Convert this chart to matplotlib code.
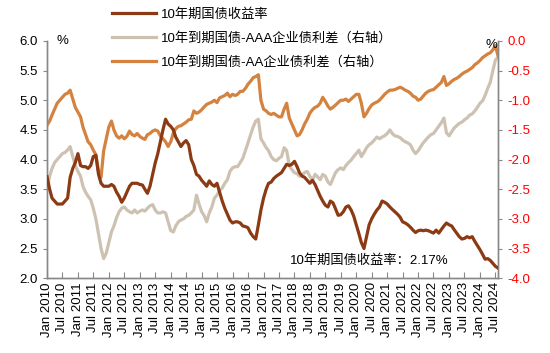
import matplotlib
matplotlib.use("Agg")
import matplotlib.pyplot as plt
import pandas as pd
import numpy as np

plt.rcParams['font.family'] = ['Liberation Sans', 'Noto Sans CJK SC', 'DejaVu Sans']

# Monthly observations, Jan 2010 - Aug 2024
start_month = '2010-01-01'

# 10年期国债收益率 (%), left axis
yield_10y = [
    3.71, 3.50, 3.35, 3.30, 3.25, 3.25, 3.25, 3.30, 3.35, 3.70, 3.85, 3.95,
    4.10, 3.90, 3.88, 3.88, 3.85, 3.90, 4.05, 4.07, 3.75, 3.60, 3.55, 3.55,
    3.55, 3.58, 3.55, 3.45, 3.38, 3.28, 3.35, 3.45, 3.55, 3.60, 3.60, 3.60,
    3.58, 3.57, 3.50, 3.43, 3.55, 3.75, 3.94, 4.10, 4.30, 4.50, 4.68, 4.60,
    4.56, 4.50, 4.38, 4.30, 4.22, 4.28, 4.32, 4.25, 4.00, 3.90, 3.75, 3.72,
    3.65, 3.60, 3.55, 3.64, 3.58, 3.55, 3.60, 3.45, 3.30, 3.18, 3.08, 2.98,
    2.93, 2.95, 2.95, 2.93, 2.88, 2.87, 2.85, 2.76, 2.70, 2.66, 2.90, 3.15,
    3.35, 3.50, 3.60, 3.62, 3.68, 3.72, 3.75, 3.78, 3.85, 3.92, 3.90, 3.92,
    3.97, 3.88, 3.78, 3.72, 3.70, 3.65, 3.60, 3.65, 3.58, 3.48, 3.38, 3.30,
    3.23, 3.20, 3.30, 3.27, 3.17, 3.06, 3.07, 3.12, 3.20, 3.22, 3.15, 3.05,
    2.90, 2.75, 2.60, 2.50, 2.70, 2.90, 3.00, 3.08, 3.15, 3.20, 3.30, 3.28,
    3.25, 3.20, 3.16, 3.12, 3.08, 3.03, 2.95, 2.93, 2.90, 2.86, 2.81, 2.77,
    2.80, 2.81, 2.80, 2.81, 2.80, 2.78, 2.76, 2.81, 2.76, 2.82, 2.88, 2.93,
    2.90, 2.88, 2.82, 2.76, 2.70, 2.66, 2.67, 2.70, 2.68, 2.70, 2.62, 2.55,
    2.48, 2.40, 2.32, 2.33, 2.30, 2.25, 2.20, 2.17,
]

# 10年到期国债-AAA企业债利差 (%), right axis
spread_aaa = [
    -2.50, -2.28, -2.15, -2.05, -2.00, -1.95, -1.90, -1.88, -1.84, -1.78, -1.95, -2.10,
    -2.20, -2.28, -2.45, -2.55, -2.62, -2.68, -2.82, -3.00, -3.25, -3.50, -3.67, -3.58,
    -3.40, -3.22, -3.12, -2.98, -2.88, -2.82, -2.80, -2.85, -2.88, -2.90, -2.85, -2.90,
    -2.87, -2.85, -2.87, -2.82, -2.78, -2.76, -2.85, -2.90, -2.90, -2.88, -2.90, -3.05,
    -3.20, -3.22, -3.12, -3.05, -3.02, -3.00, -2.96, -2.94, -2.90, -2.85, -2.60, -2.75,
    -2.88, -2.95, -3.05, -2.90, -2.80, -2.65, -2.60, -2.52, -2.48, -2.40, -2.34, -2.20,
    -2.14, -2.12, -2.12, -2.05, -1.98, -1.85, -1.72, -1.58, -1.45, -1.35, -1.32, -1.65,
    -1.72, -1.80, -1.85, -1.95, -2.00, -2.02, -1.98, -1.95, -1.80, -1.85, -2.10, -2.17,
    -2.22, -2.24, -2.28, -2.26, -2.22, -2.20, -2.28, -2.35, -2.25, -2.29, -2.34, -2.25,
    -2.28, -2.38, -2.42, -2.32, -2.22, -2.17, -2.14, -2.17, -2.10, -2.05, -2.01, -1.95,
    -1.90, -1.84, -1.95, -1.88, -1.80, -1.75, -1.72, -1.67, -1.62, -1.65, -1.62, -1.60,
    -1.56, -1.50, -1.56, -1.60, -1.61, -1.63, -1.67, -1.70, -1.72, -1.75, -1.84, -1.90,
    -1.85, -1.78, -1.72, -1.67, -1.62, -1.58, -1.56, -1.50, -1.44, -1.38, -1.30, -1.55,
    -1.60, -1.53, -1.47, -1.43, -1.39, -1.37, -1.33, -1.30, -1.25, -1.23, -1.18, -1.12,
    -1.05, -1.01, -0.92, -0.80, -0.70, -0.50, -0.32, -0.28,
]

# 10年到期国债-AA企业债利差 (%), right axis
spread_aa = [
    -1.42, -1.35, -1.25, -1.15, -1.05, -1.00, -0.95, -0.90, -0.88, -0.83, -0.98, -1.12,
    -1.20, -1.28, -1.45, -1.58, -1.70, -1.75, -1.84, -1.92, -2.20, -2.30, -1.85, -1.65,
    -1.45, -1.35, -1.50, -1.60, -1.64, -1.60, -1.65, -1.61, -1.52, -1.58, -1.60, -1.56,
    -1.61, -1.64, -1.66, -1.58, -1.56, -1.52, -1.50, -1.52, -1.60, -1.65, -1.70, -1.78,
    -1.70, -1.55, -1.48, -1.44, -1.43, -1.40, -1.37, -1.33, -1.32, -1.18, -1.22, -1.20,
    -1.16, -1.11, -1.07, -1.05, -1.03, -1.00, -1.04, -0.96, -0.94, -0.92, -0.88, -0.94,
    -0.90, -0.92, -0.90, -0.85, -0.85, -0.80, -0.73, -0.68, -0.62, -0.60, -0.57, -1.00,
    -1.15, -1.18, -1.22, -1.24, -1.22, -1.25, -1.28, -1.28, -1.15, -1.05, -1.30, -1.40,
    -1.50, -1.60, -1.58, -1.50, -1.40, -1.32, -1.22, -1.16, -1.12, -1.10, -1.05, -0.95,
    -1.02, -1.10, -1.15, -1.12, -1.08, -1.04, -1.00, -1.00, -0.98, -1.02, -0.98, -0.94,
    -0.90, -0.90, -1.05, -1.28, -1.22, -1.14, -1.08, -1.05, -1.03, -1.00, -0.95, -0.90,
    -0.86, -0.83, -0.83, -0.82, -0.80, -0.78, -0.80, -0.83, -0.85, -0.88, -0.93, -0.95,
    -1.00, -0.98, -0.93, -0.88, -0.85, -0.83, -0.82, -0.78, -0.74, -0.70, -0.60, -0.75,
    -0.72, -0.68, -0.65, -0.63, -0.60, -0.56, -0.53, -0.51, -0.48, -0.45, -0.40, -0.37,
    -0.33, -0.28, -0.25, -0.22, -0.20, -0.15, -0.08, -0.25,
]

labels = ['10年期国债收益率',
          '10年到期国债-AAA企业债利差（右轴）',
          '10年到期国债-AA企业债利差（右轴）']
colors = ['#8B3A14', '#CDC2B2', '#D4823F']
annotation = '10年期国债收益率：2.17%'

left_ticks = [2.0, 2.5, 3.0, 3.5, 4.0, 4.5, 5.0, 5.5, 6.0]
right_ticks = [-4.0, -3.5, -3.0, -2.5, -2.0, -1.5, -1.0, -0.5, 0.0]

dates = pd.date_range(start_month, periods=len(yield_10y), freq='MS')
xticks = pd.date_range('2010-01-01', '2024-07-01', freq='6MS')

fig = plt.figure(figsize=(5.5, 3.53), dpi=100)
ax = fig.add_axes([0.0855, 0.212, 0.82, 0.672])
ax2 = ax.twinx()

l2, = ax2.plot(dates, spread_aaa, color=colors[1], lw=2.3, zorder=2)
l3, = ax2.plot(dates, spread_aa, color=colors[2], lw=2.3, zorder=3)
l1, = ax.plot(dates, yield_10y, color=colors[0], lw=2.3, zorder=4)
ax.set_zorder(ax2.get_zorder() + 1)
ax.patch.set_visible(False)

ax.set_ylim(2.0, 6.0)
ax2.set_ylim(-4.0, 0.0)
ax.set_xlim(dates[0], dates[-1])
ax.set_yticks(left_ticks)
ax.set_yticklabels([f'{v:.1f}' for v in left_ticks])
ax2.set_yticks(right_ticks)
ax2.set_yticklabels([f'{v:.1f}' for v in right_ticks], color='red')
ax.set_xticks(xticks)
ax.set_xticklabels([d.strftime('%b %Y') for d in xticks], rotation=90)

spine_c = '#888888'
for a in (ax, ax2):
    a.spines['top'].set_visible(False)
    for s in ('left', 'right', 'bottom'):
        a.spines[s].set_color(spine_c)
        a.spines[s].set_linewidth(1.0)
ax.tick_params(axis='x', direction='in', length=4, color=spine_c, labelsize=9.5, pad=3)
ax.tick_params(axis='y', direction='out', length=3, color=spine_c, labelsize=9.5)
ax2.tick_params(axis='y', direction='out', length=3, color=spine_c, labelsize=9.5)

ax.text(0.034, 1.0, '%', transform=ax.transAxes, fontsize=9.5, ha='center', va='center')
ax.text(0.985, 0.983, '%', transform=ax.transAxes, fontsize=9.5, ha='center', va='center')
ax.text(0.715, 0.075, annotation, transform=ax.transAxes, fontsize=9.5,
        ha='center', va='center')

fig.legend([l1, l2, l3], labels, loc='upper left',
           bbox_to_anchor=(0.19, 1.0), frameon=False, fontsize=9.5,
           handlelength=3.3, labelspacing=0.85, handletextpad=0.4,
           borderaxespad=0.2)

fig.savefig('out.png', dpi=100)
